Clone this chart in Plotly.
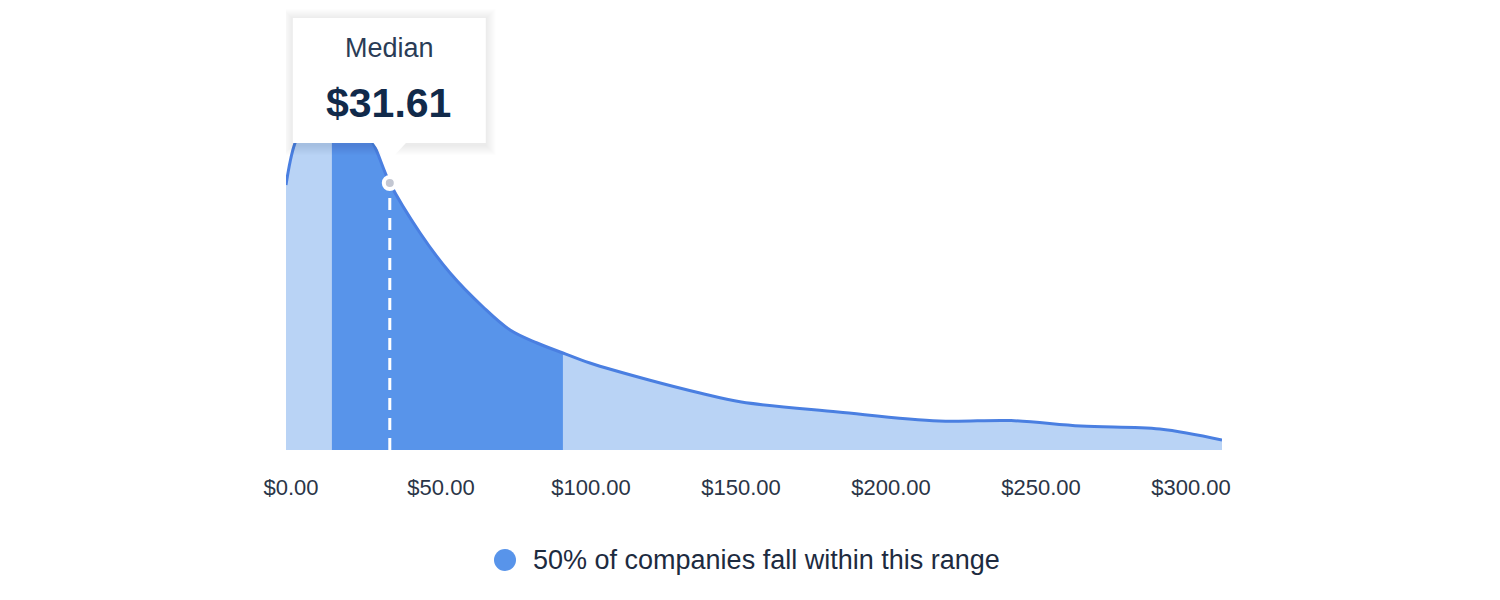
import plotly.graph_objects as go

# distribution curve (price in $, density in arbitrary units)
price = [0, 3, 8, 15.3, 22, 29, 34.6, 44.7, 54.7, 65.7, 74.7, 83.7, 92.3,
         101.3, 121, 138, 151.8, 184, 217.7, 241.7, 265, 291.3, 312]
density = [0.265, 0.307, 0.336, 0.352, 0.340, 0.307, 0.267, 0.217, 0.177, 0.143,
           0.120, 0.107, 0.097, 0.087, 0.070, 0.057, 0.048, 0.038, 0.029, 0.0294,
           0.024, 0.021, 0.010]

band_lo = 15.3   # 50% range start
band_hi = 92.3   # 50% range end
median_x = 34.6
median_label = "$31.61"
legend_label = "50% of companies fall within this range"

tick_vals = [0, 50, 100, 150, 200, 250, 300]
tick_text = ["$0.00", "$50.00", "$100.00", "$150.00", "$200.00", "$250.00", "$300.00"]

LIGHT = "#b9d3f5"
DARK = "#5894ea"
LINE = "#4a7fe1"
FONT = "Liberation Sans, Arial, sans-serif"

# page body has an 8px margin, so the figure is a bit smaller than the window
OFF = 8
W, H = 1500 - OFF, 600 - OFF
ML, MR, MT, MB = 286 - OFF, 278, 0, 150
plot_w = W - ML - MR
plot_h = H - MT - MB


def px_x(px):
    return (px - OFF - ML) / plot_w


def px_y(py):
    return (H - MB - (py - OFF)) / plot_h


band_x = [x for x in price if band_lo <= x <= band_hi]
band_y = [y for x, y in zip(price, density) if band_lo <= x <= band_hi]
median_y = density[price.index(median_x)]

fig = go.Figure()
fig.add_trace(go.Scatter(x=price, y=density, mode="lines", fill="tozeroy",
                         fillcolor=LIGHT, line=dict(width=0, shape="spline"),
                         hoverinfo="skip", showlegend=False))
fig.add_trace(go.Scatter(x=band_x, y=band_y, mode="lines", fill="tozeroy",
                         fillcolor=DARK, line=dict(width=0, shape="spline"),
                         hoverinfo="skip", showlegend=False))
fig.add_trace(go.Scatter(x=price, y=density, mode="lines",
                         line=dict(color=LINE, width=3, shape="spline"),
                         hoverinfo="skip", showlegend=False))
fig.add_trace(go.Scatter(x=[median_x, median_x], y=[0, median_y], mode="lines",
                         line=dict(color="white", width=3, dash="12px,8px"),
                         hoverinfo="skip", showlegend=False))
fig.add_trace(go.Scatter(x=[median_x], y=[median_y], mode="markers",
                         marker=dict(size=12, color="#c3c7d2",
                                     line=dict(color="white", width=4)),
                         hoverinfo="skip", showlegend=False))

# tooltip box (soft shadow + box + pointer)
anchor = dict(xref="x", yref="y", xsizemode="pixel", ysizemode="pixel",
              xanchor=median_x, yanchor=median_y)
for k in range(1, 11):
    fig.add_shape(type="rect", x0=-97 - k, x1=96 + k, y0=40 - k - 2, y1=165 + k - 1,
                  fillcolor="rgba(0,0,0,0.009)", line=dict(width=0), **anchor)
fig.add_shape(type="rect", x0=-97, x1=96, y0=40, y1=165,
              fillcolor="white", line=dict(width=0), **anchor)
fig.add_shape(type="path", path="M -17,41 L 17,41 L -2,20 Z",
              fillcolor="white", line=dict(width=0), **anchor)

fig.add_annotation(x=median_x, y=median_y, xref="x", yref="y", text="Median",
                   showarrow=False, yshift=135, xshift=0,
                   font=dict(family=FONT, size=27, color="#2a3c56"))
fig.add_annotation(x=median_x, y=median_y, xref="x", yref="y",
                   text="<b>" + median_label + "</b>",
                   showarrow=False, yshift=80, xshift=-1,
                   font=dict(family=FONT, size=41, color="#112a4a"))

# legend
fig.add_shape(type="circle", xref="paper", yref="paper", xsizemode="pixel",
              ysizemode="pixel", xanchor=px_x(505), yanchor=px_y(560),
              x0=-11, x1=11, y0=-11, y1=11, fillcolor=DARK, line=dict(width=0))
fig.add_annotation(x=px_x(531), y=px_y(560), xref="paper", yref="paper",
                   text=legend_label, showarrow=False, xanchor="left",
                   yanchor="middle",
                   font=dict(family=FONT, size=27, color="#1d2b40"))

fig.update_layout(
    width=W, height=H,
    margin=dict(l=ML, r=MR, t=MT, b=MB),
    plot_bgcolor="white", paper_bgcolor="white",
    xaxis=dict(range=[0, 312], tickvals=tick_vals, ticktext=tick_text,
               showgrid=False, zeroline=False, showline=False, ticks="",
               ticklabelstandoff=22, ticklabelshift=5,
               tickfont=dict(family=FONT, size=22, color="#2a3547")),
    yaxis=dict(range=[0, plot_h / 1000], visible=False, fixedrange=True),
)

fig.write_html("out.html")
